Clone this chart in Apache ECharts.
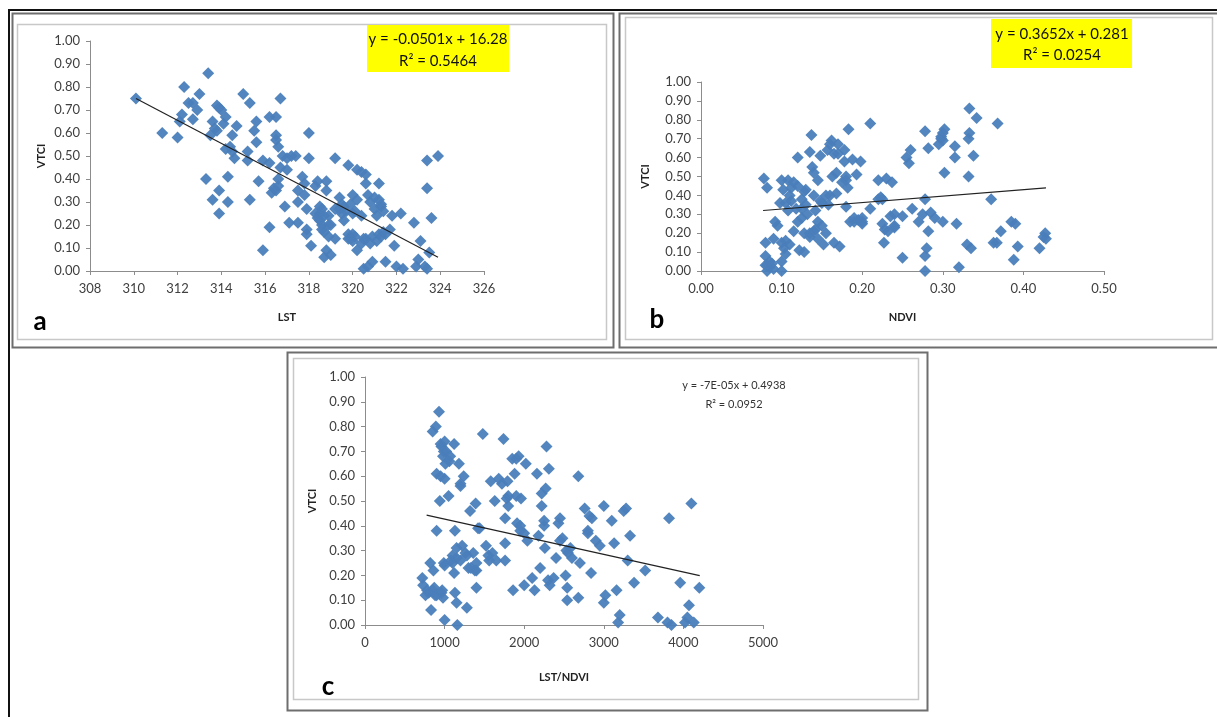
<!DOCTYPE html>
<html><head><meta charset="utf-8">
<script src="https://cdn.jsdelivr.net/npm/echarts@6/dist/echarts.min.js"></script>
<style>html,body{margin:0;padding:0;background:#fff}#c{width:1217px;height:717px}</style>
</head><body><div id="c"></div>
<script>
// Panel a: LST vs VTCI
const lstA = [310.1,311.3,312.0,312.1,312.2,312.3,312.5,312.7,312.7,312.9,313.0,313.3,313.4,313.5,313.6,313.6,313.8,313.8,313.9,313.9,313.9,314.0,314.1,314.2,314.2,314.3,314.3,314.5,314.6,314.7,314.5,315.0,315.2,315.2,315.3,315.3,315.5,315.6,315.6,315.7,315.9,315.9,316.2,316.2,316.2,316.3,316.5,316.5,316.5,316.5,316.6,316.6,316.7,316.7,316.8,316.9,317.0,317.1,317.2,317.4,317.5,317.5,317.5,317.7,317.8,317.8,317.9,317.9,317.9,318.0,318.0,318.1,318.3,318.3,318.4,318.5,318.5,318.6,318.6,318.7,318.7,318.7,318.8,318.8,318.8,318.9,318.9,319.0,319.2,319.2,319.2,319.4,319.4,319.5,319.6,319.6,319.8,319.8,319.8,319.9,320.0,320.0,320.0,320.1,320.2,320.2,320.4,320.4,320.4,320.5,320.6,320.6,320.6,320.7,320.7,320.8,320.9,320.9,321.0,321.1,321.1,321.2,321.2,321.3,321.3,321.4,321.4,321.5,321.7,321.8,321.9,322.0,322.2,322.3,322.8,322.9,323.0,323.1,323.3,323.4,323.4,323.4,323.5,323.6,323.9,
  318.4,318.5,318.6,318.9,319.0,319.5,319.7,320.0,320.2,320.5,320.8,321.2,321.3,321.5,316.6,316.4,314.4,313.7,317.0,319.9,320.1,321.0];
const vtciA = [0.75,0.60,0.58,0.65,0.68,0.80,0.73,0.73,0.66,0.70,0.77,0.40,0.86,0.59,0.31,0.65,0.61,0.72,0.71,0.35,0.25,0.70,0.64,0.67,0.53,0.41,0.30,0.59,0.49,0.63,0.52,0.77,0.52,0.48,0.73,0.31,0.61,0.65,0.56,0.39,0.48,0.09,0.19,0.67,0.47,0.34,0.67,0.59,0.57,0.35,0.54,0.37,0.75,0.45,0.50,0.28,0.44,0.21,0.50,0.50,0.35,0.30,0.21,0.41,0.38,0.33,0.27,0.18,0.16,0.60,0.49,0.11,0.37,0.25,0.39,0.25,0.22,0.20,0.27,0.24,0.17,0.06,0.39,0.35,0.09,0.20,0.15,0.07,0.49,0.27,0.14,0.32,0.27,0.25,0.28,0.22,0.46,0.16,0.14,0.29,0.33,0.25,0.16,0.15,0.44,0.09,0.43,0.24,0.12,0.01,0.42,0.38,0.14,0.02,0.33,0.30,0.15,0.04,0.27,0.24,0.13,0.38,0.31,0.28,0.15,0.26,0.17,0.04,0.18,0.24,0.11,0.02,0.25,0.01,0.21,0.02,0.05,0.13,0.02,0.48,0.36,0.01,0.08,0.23,0.50,
  0.23,0.28,0.18,0.24,0.20,0.29,0.26,0.13,0.31,0.14,0.12,0.16,0.29,0.16,0.40,0.36,0.54,0.62,0.49,0.14,0.26,0.32];
const trendAx = [310.1, 323.9];
const trendAy = [0.75, 0.06];

// Panel b: NDVI vs VTCI
const ndviB = [0.078,0.080,0.082,0.080,0.080,0.082,0.085,0.085,0.090,0.090,0.095,0.098,0.100,0.100,0.100,0.100,0.102,0.103,0.105,0.105,0.108,0.108,0.110,0.112,0.115,0.115,0.120,0.120,0.120,0.122,0.125,0.125,0.128,0.128,0.128,0.130,0.132,0.135,0.135,0.137,0.138,0.140,0.140,0.142,0.142,0.145,0.145,0.148,0.148,0.150,0.152,0.155,0.157,0.158,0.160,0.162,0.163,0.165,0.165,0.168,0.168,0.170,0.172,0.175,0.178,0.178,0.180,0.180,0.182,0.183,0.185,0.188,0.190,0.193,0.195,0.198,0.200,0.200,0.210,0.210,0.220,0.220,0.223,0.225,0.227,0.228,0.230,0.232,0.235,0.237,0.240,0.240,0.250,0.250,0.255,0.258,0.260,0.262,0.270,0.275,0.278,0.278,0.278,0.278,0.280,0.282,0.282,0.285,0.290,0.295,0.298,0.300,0.302,0.300,0.302,0.315,0.315,0.317,0.320,0.330,0.332,0.332,0.333,0.333,0.335,0.338,0.342,0.360,0.363,0.367,0.368,0.372,0.385,0.388,0.390,0.393,0.420,0.425,0.427,0.428,
  0.082,0.088,0.092,0.105,0.110,0.112,0.118,0.125,0.130,0.135,0.140,0.145,0.150,0.155,0.160,0.170,0.180,0.190,0.200,0.225,0.240,0.300,0.298];
const vtciB = [0.49,0.15,0.44,0.08,0.03,0.00,0.02,0.05,0.17,0.01,0.24,0.36,0.48,0.15,0.05,0.00,0.43,0.12,0.36,0.09,0.48,0.32,0.40,0.37,0.21,0.47,0.60,0.45,0.26,0.11,0.33,0.28,0.42,0.20,0.10,0.35,0.30,0.63,0.18,0.72,0.55,0.52,0.40,0.22,0.32,0.48,0.17,0.61,0.37,0.24,0.14,0.20,0.64,0.35,0.40,0.69,0.50,0.15,0.62,0.52,0.41,0.67,0.13,0.47,0.58,0.64,0.50,0.34,0.44,0.75,0.26,0.59,0.26,0.51,0.27,0.58,0.25,0.28,0.33,0.78,0.48,0.38,0.39,0.25,0.15,0.22,0.49,0.21,0.29,0.47,0.30,0.23,0.07,0.29,0.60,0.57,0.64,0.33,0.26,0.30,0.74,0.38,0.08,0.00,0.12,0.65,0.21,0.31,0.28,0.67,0.70,0.73,0.75,0.26,0.52,0.66,0.60,0.25,0.02,0.14,0.70,0.50,0.73,0.86,0.12,0.61,0.81,0.38,0.15,0.15,0.78,0.21,0.26,0.06,0.25,0.13,0.12,0.18,0.20,0.17,
  0.03,0.04,0.26,0.16,0.14,0.44,0.33,0.38,0.43,0.20,0.21,0.26,0.36,0.40,0.67,0.62,0.48,0.28,0.26,0.38,0.24,0.69,0.71];
const trendBx = [0.077, 0.428];
const trendBy = [0.32, 0.44];

// Panel c: LST/NDVI vs VTCI
const ratioC = [720,730,760,800,820,830,850,860,870,880,890,900,900,930,940,950,960,970,980,980,990,1000,1000,1000,1020,1050,1060,1080,1100,1120,1120,1130,1130,1150,1150,1160,1180,1200,1200,1220,1240,1260,1280,1300,1320,1360,1380,1390,1400,1400,1420,1440,1480,1520,1560,1580,1600,1630,1650,1680,1720,1740,1760,1760,1760,1780,1790,1800,1850,1860,1880,1900,1910,1930,1950,1960,2000,2000,2020,2040,2100,2130,2160,2180,2200,2220,2220,2250,2260,2270,2280,2300,2310,2320,2370,2400,2430,2450,2480,2520,2530,2540,2540,2580,2600,2680,2680,2700,2760,2800,2820,2840,2900,2950,3000,3000,3020,3100,3130,3160,3180,3200,3250,3280,3300,3330,3380,3520,3680,3800,3820,3850,3960,4020,4050,4070,4100,4130,4200,
  780,850,900,950,990,1010,1070,1100,1150,1200,1280,1330,1400,1550,1800,1900,1950,2250,2450,2550,2800,2850,1000,960];
const vtciC = [0.19,0.16,0.12,0.13,0.25,0.06,0.78,0.22,0.15,0.12,0.80,0.38,0.61,0.86,0.50,0.60,0.72,0.14,0.68,0.11,0.25,0.74,0.59,0.02,0.70,0.52,0.66,0.26,0.28,0.73,0.21,0.38,0.13,0.31,0.09,0.00,0.65,0.26,0.56,0.32,0.60,0.29,0.07,0.23,0.46,0.29,0.22,0.49,0.25,0.15,0.39,0.39,0.77,0.32,0.26,0.58,0.29,0.50,0.26,0.59,0.57,0.75,0.43,0.33,0.26,0.51,0.58,0.48,0.67,0.14,0.61,0.52,0.41,0.68,0.40,0.51,0.37,0.16,0.65,0.34,0.19,0.14,0.61,0.36,0.23,0.48,0.53,0.40,0.31,0.55,0.72,0.18,0.63,0.16,0.19,0.27,0.41,0.43,0.35,0.20,0.30,0.15,0.10,0.31,0.27,0.60,0.11,0.25,0.47,0.38,0.44,0.21,0.34,0.32,0.48,0.09,0.12,0.42,0.33,0.14,0.01,0.04,0.46,0.47,0.26,0.36,0.17,0.22,0.03,0.01,0.43,0.00,0.17,0.01,0.03,0.08,0.49,0.01,0.15,
  0.14,0.14,0.12,0.73,0.70,0.65,0.68,0.25,0.27,0.57,0.28,0.23,0.22,0.28,0.52,0.67,0.38,0.42,0.34,0.29,0.37,0.43,0.24,0.13];
const trendCx = [774, 4205];
const trendCy = [0.443, 0.199];

const eqA = ['y = -0.0501x + 16.28', 'R² = 0.5464'];
const eqB = ['y = 0.3652x + 0.281', 'R² = 0.0254'];
const eqC = ['y = -7E-05x + 0.4938', 'R² = 0.0952'];

const zip = (xs, ys) => xs.map((x, i) => [x, ys[i]]);
const BLUE = '#4a7ebb';
const FONT = 'Lato, "Open Sans", sans-serif';
const labelStyle = { color: '#404040', fontSize: 13, fontFamily: FONT };

function yAx(gi, gap) {
  return { gridIndex: gi, type: 'value', min: 0, max: 1, interval: 0.1,
    name: 'VTCI', nameLocation: 'middle', nameGap: gap,
    nameTextStyle: { fontWeight: 'bold', fontSize: 11, color: '#222', fontFamily: FONT },
    axisLine: { show: true, lineStyle: { color: '#8c8c8c', width: 1 } },
    axisTick: { show: true, length: 4, lineStyle: { color: '#8c8c8c' } },
    splitLine: { show: false },
    axisLabel: Object.assign({ margin: 10, formatter: v => v.toFixed(2) }, labelStyle) };
}
function xAx(gi, min, max, interval, name, gap, fmt) {
  return { gridIndex: gi, type: 'value', min, max, interval,
    name, nameLocation: 'middle', nameGap: gap,
    nameTextStyle: { fontWeight: 'bold', fontSize: 11, color: '#222', fontFamily: FONT },
    axisLine: { show: true, onZero: false, lineStyle: { color: '#8c8c8c', width: 1 } },
    axisTick: { show: true, length: 4, lineStyle: { color: '#8c8c8c' } },
    splitLine: { show: false },
    axisLabel: Object.assign({ margin: 11, formatter: fmt }, labelStyle) };
}
function scatter(i, data) {
  return { type: 'scatter', xAxisIndex: i, yAxisIndex: i, data, symbol: 'diamond', symbolSize: 12,
    itemStyle: { color: BLUE, opacity: 0.95 }, silent: true, z: 2 };
}
function trend(i, data) {
  return { type: 'line', xAxisIndex: i, yAxisIndex: i, data, symbol: 'none',
    lineStyle: { color: '#222', width: 1.2 }, silent: true, z: 3 };
}
function rect(x1, y1, x2, y2, color, w) {
  return { type: 'rect', shape: { x: x1, y: y1, width: x2 - x1, height: y2 - y1 },
    style: { fill: null, stroke: color, lineWidth: w }, silent: true, z: -1 };
}
function txt(x, y, t, size, weight, align, color) {
  return { type: 'text', x, y, style: { text: t, font: (weight || 'normal') + ' ' + size + 'px ' + FONT,
    fill: color || '#111', textAlign: align || 'center', textVerticalAlign: 'middle' }, silent: true, z: 10 };
}

const chart = echarts.init(document.getElementById('c'), null, { renderer: 'canvas' });
chart.setOption({
  backgroundColor: '#ffffff',
  animation: false,
  grid: [
    { left: 90, top: 41, width: 394, height: 230, containLabel: false },
    { left: 701, top: 82, width: 403, height: 189, containLabel: false },
    { left: 365, top: 377, width: 398, height: 248, containLabel: false }
  ],
  xAxis: [
    xAx(0, 308, 326, 2, 'LST', 41, v => String(v)),
    xAx(1, 0, 0.5, 0.1, 'NDVI', 41, v => v.toFixed(2)),
    xAx(2, 0, 5000, 1000, 'LST/NDVI', 47, v => String(v))
  ],
  yAxis: [yAx(0, 43), yAx(1, 50), yAx(2, 47)],
  series: [
    scatter(0, zip(lstA, vtciA)), trend(0, zip(trendAx, trendAy)),
    scatter(1, zip(ndviB, vtciB)), trend(1, zip(trendBx, trendBy)),
    scatter(2, zip(ratioC, vtciC)), trend(2, zip(trendCx, trendCy))
  ],
  graphic: [
    { type: 'line', shape: { x1: 8, y1: 10, x2: 1217, y2: 10 }, style: { stroke: '#111', lineWidth: 2 }, silent: true },
    { type: 'line', shape: { x1: 9, y1: 10, x2: 9, y2: 717 }, style: { stroke: '#111', lineWidth: 2 }, silent: true },
    rect(12.5, 13.5, 613.5, 347.5, '#6e6e6e', 2),
    rect(17.5, 24.5, 606.5, 339.5, '#c8c8c8', 1.5),
    rect(619.5, 13.5, 1222, 347.5, '#6e6e6e', 2),
    rect(625.5, 17.5, 1212.5, 339.5, '#c8c8c8', 1.5),
    rect(287.5, 352.5, 927.5, 710.5, '#6e6e6e', 2),
    rect(293.5, 358.5, 918.5, 699.5, '#c8c8c8', 1.5),
    { type: 'rect', shape: { x: 367, y: 25, width: 142, height: 47 }, style: { fill: '#ffff00' }, silent: true, z: 5 },
    { type: 'rect', shape: { x: 991, y: 19, width: 141, height: 49 }, style: { fill: '#ffff00' }, silent: true, z: 5 },
    txt(438, 39, eqA[0], 15), txt(438, 61, eqA[1], 15),
    txt(1062, 34, eqB[0], 15), txt(1062, 55, eqB[1], 15),
    txt(734, 385, eqC[0], 11, 'normal', 'center', '#333'), txt(734, 404, eqC[1], 11, 'normal', 'center', '#333'),
    txt(40, 322, 'a', 26, 'bold', 'center', '#000'),
    txt(657, 320, 'b', 26, 'bold', 'center', '#000'),
    txt(328, 687, 'c', 26, 'bold', 'center', '#000')
  ]
});
</script>
</body></html>
